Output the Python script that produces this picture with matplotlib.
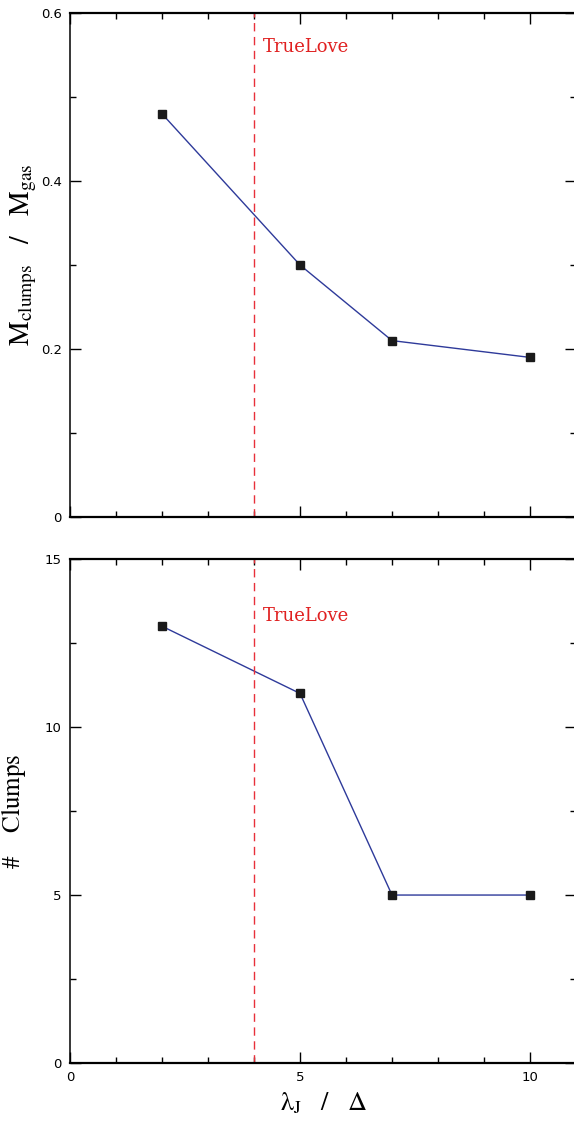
import matplotlib
matplotlib.use("Agg")
import matplotlib.pyplot as plt
from matplotlib.ticker import MultipleLocator

# data
resolution = [2, 5, 7, 10]          # lambda_J / Delta
mass_fraction = [0.48, 0.30, 0.21, 0.19]
n_clumps = [13, 11, 5, 5]
truelove_x = 4.0

plt.rcParams["mathtext.fontset"] = "stix"
plt.rcParams["font.family"] = ["DejaVu Sans"]

line_color = "#2e3a9a"

fig = plt.figure(figsize=(5.74, 11.21), dpi=100)
ax_top = fig.add_axes([0.122, 0.5388, 0.8815, 0.4496])
ax_bot = fig.add_axes([0.122, 0.0517, 0.8815, 0.4496])


def style_axis(ax, ymax, ymajor, yminor):
    ax.set_xlim(0, 11)
    ax.set_ylim(0, ymax)
    ax.xaxis.set_major_locator(MultipleLocator(5))
    ax.xaxis.set_minor_locator(MultipleLocator(1))
    ax.yaxis.set_major_locator(MultipleLocator(ymajor))
    ax.yaxis.set_minor_locator(MultipleLocator(yminor))
    ax.tick_params(which="both", direction="in", top=True, right=True,
                   labelsize=9.5, width=1.0, pad=6)
    ax.tick_params(which="major", length=8)
    ax.tick_params(which="minor", length=4)
    for side in ("left", "right"):
        ax.spines[side].set_linewidth(1.1)
    for side in ("top", "bottom"):
        ax.spines[side].set_linewidth(1.6)


# top panel: clump mass fraction
ax_top.plot(resolution, mass_fraction, color=line_color, lw=1.0,
            marker="s", ms=5.5, mfc="#1a1a1a", mec="#1a1a1a")
ax_top.axvline(truelove_x, color="#e8303a", ls=(0, (6, 4)), lw=1.0)
ax_top.text(truelove_x + 0.2, 0.56, "TrueLove", color="#e02020",
            family="DejaVu Serif", fontsize=13, va="center")
style_axis(ax_top, 0.6, 0.2, 0.1)
ax_top.set_yticks([0, 0.2, 0.4, 0.6])
ax_top.set_yticklabels(["0", "0.2", "0.4", "0.6"])
ax_top.tick_params(axis="x", labelbottom=False)
ax_top.set_ylabel(r"$\mathrm{M_{clumps}}\ \ \ /\ \ \ \mathrm{M_{gas}}$",
                  fontsize=20)
ax_top.yaxis.set_label_coords(-0.062, 0.52)

# bottom panel: number of clumps
ax_bot.plot(resolution, n_clumps, color=line_color, lw=1.0,
            marker="s", ms=5.5, mfc="#1a1a1a", mec="#1a1a1a")
ax_bot.axvline(truelove_x, color="#e8303a", ls=(0, (6, 4)), lw=1.0)
ax_bot.text(truelove_x + 0.2, 13.3, "TrueLove", color="#e02020",
            family="DejaVu Serif", fontsize=13, va="center")
style_axis(ax_bot, 15, 5, 2.5)
ax_bot.set_ylabel(r"$\#\ \ \ \ \mathrm{Clumps}$", fontsize=18)
ax_bot.yaxis.set_label_coords(-0.083, 0.5)
ax_bot.set_xlabel(r"$\mathrm{\lambda_{J}}\ \ \ /\ \ \ \Delta$", fontsize=19,
                  labelpad=4)

fig.savefig("out.png", dpi=100)
